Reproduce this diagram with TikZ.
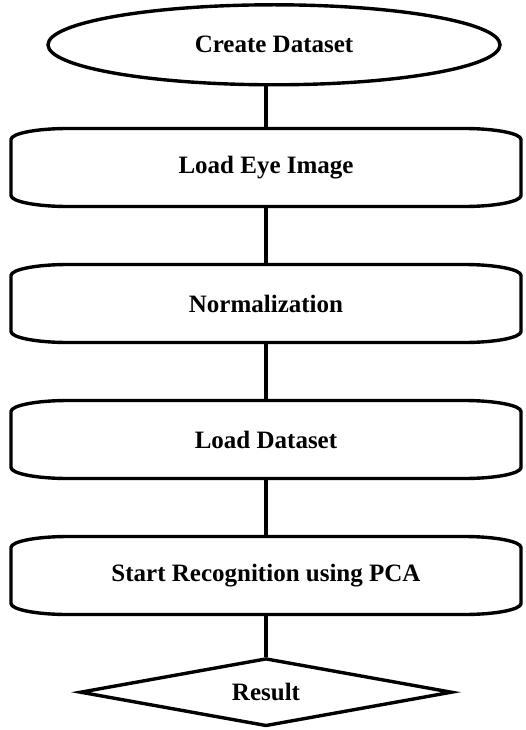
\documentclass[tikz,border=0pt]{standalone}
\usepackage{fontspec}
\setmainfont{Liberation Serif}
\usetikzlibrary{shapes.geometric, positioning}
\tikzset{
	node distance=58pt,
	every node/.style={font=\fontsize{25}{29}\selectfont\bfseries},
	flowline/.style={line width=3.4pt},
	startnode/.style={ellipse, draw, flowline, minimum width=452pt, minimum height=80pt, inner sep=0pt},
	stepbox/.style={minimum width=510pt, minimum height=78pt, inner sep=0pt, outer sep=0pt,
		append after command={\pgfextra{
			\draw[flowline] ([xshift=57pt]\tikzlastnode.north west)
				arc[start angle=90, end angle=180, x radius=57pt, y radius=11pt]
				-- ([yshift=11pt]\tikzlastnode.south west)
				arc[start angle=180, end angle=270, x radius=57pt, y radius=11pt]
				-- ([xshift=-57pt]\tikzlastnode.south east)
				arc[start angle=270, end angle=360, x radius=57pt, y radius=11pt]
				-- ([yshift=-11pt]\tikzlastnode.north east)
				arc[start angle=0, end angle=90, x radius=57pt, y radius=11pt]
				-- cycle;
		}}},
	decision/.style={diamond, aspect=5.5, draw, flowline, minimum width=372pt, minimum height=68pt, inner sep=0pt},
}

\begin{document}
\begin{tikzpicture}
	\useasboundingbox (0,0) rectangle (526pt,-730pt);

	\node [stepbox] (EYEload) at (266pt,-167.5pt) {Load Eye Image};
	\node [startnode, above=42pt of EYEload, xshift=8pt] (CREATE) {Create Dataset};
	\node [stepbox, below=of EYEload] (NORM) {Normalization};
	\node [stepbox, below=of NORM] (DATAload) {Load Dataset};
	\node [stepbox, below=of DATAload] (PCArecog) {Start Recognition using PCA};
	\node [decision, below=42pt of PCArecog] (RESULT) {Result};

	\draw[flowline] (CREATE.south -| EYEload.north) -- (EYEload.north);
	\draw[flowline] (EYEload) -- (NORM);
	\draw[flowline] (NORM) -- (DATAload);
	\draw[flowline] (DATAload) -- (PCArecog);
	\draw[flowline] (PCArecog) -- (RESULT);
\end{tikzpicture}
\end{document}
